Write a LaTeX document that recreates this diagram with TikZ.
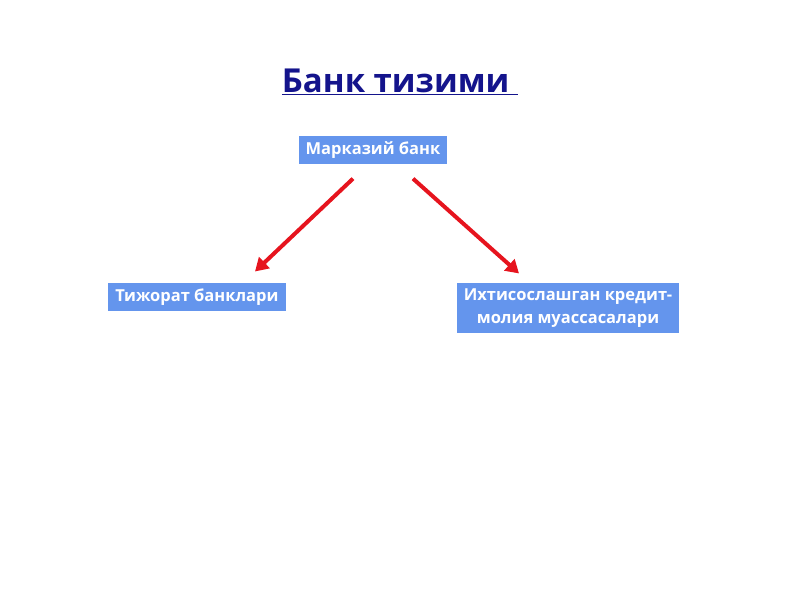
\documentclass[tikz,border=0pt]{standalone}
\usepackage{fontspec}
\setmainfont{Open Sans}
\usetikzlibrary{arrows.meta,positioning}

\definecolor{boxblue}{RGB}{100,149,237}
\definecolor{titleblue}{RGB}{20,20,140}
\definecolor{arrowred}{RGB}{230,20,30}

\tikzset{
  bankbox/.style={fill=boxblue, text=white, font=\fontsize{16.5}{23}\selectfont\bfseries, inner xsep=7pt, inner ysep=6pt, align=center},
  redarrow/.style={draw=arrowred, line width=4pt, -{Triangle[length=13pt,width=15pt]}}
}

\begin{document}
\begin{tikzpicture}[x=1pt,y=-1pt]
\useasboundingbox (0,0) rectangle (800,600);

\node[font=\fontsize{33}{38}\selectfont\bfseries, text=titleblue] (title) at (400,82) {\underline{Банк тизими\ }};

\node[bankbox] (mb) at (373,150) {Марказий банк};
\node[bankbox] (tb) at (197,297) {Тижорат банклари};
\node[bankbox] (ik) at (568,308) {Ихтисослашган кредит-\\молия муассасалари};

% arrows
\coordinate (a1) at ([xshift=-20pt,yshift=-14pt]mb.south);
\coordinate (a2) at ([xshift=58pt,yshift=11pt]tb.north);
\coordinate (b1) at ([xshift=40pt,yshift=-14pt]mb.south);
\coordinate (b2) at ([xshift=-49pt,yshift=9pt]ik.north);
\draw[redarrow] (a1) -- (a2);
\draw[redarrow] (b1) -- (b2);

\end{tikzpicture}
\end{document}
